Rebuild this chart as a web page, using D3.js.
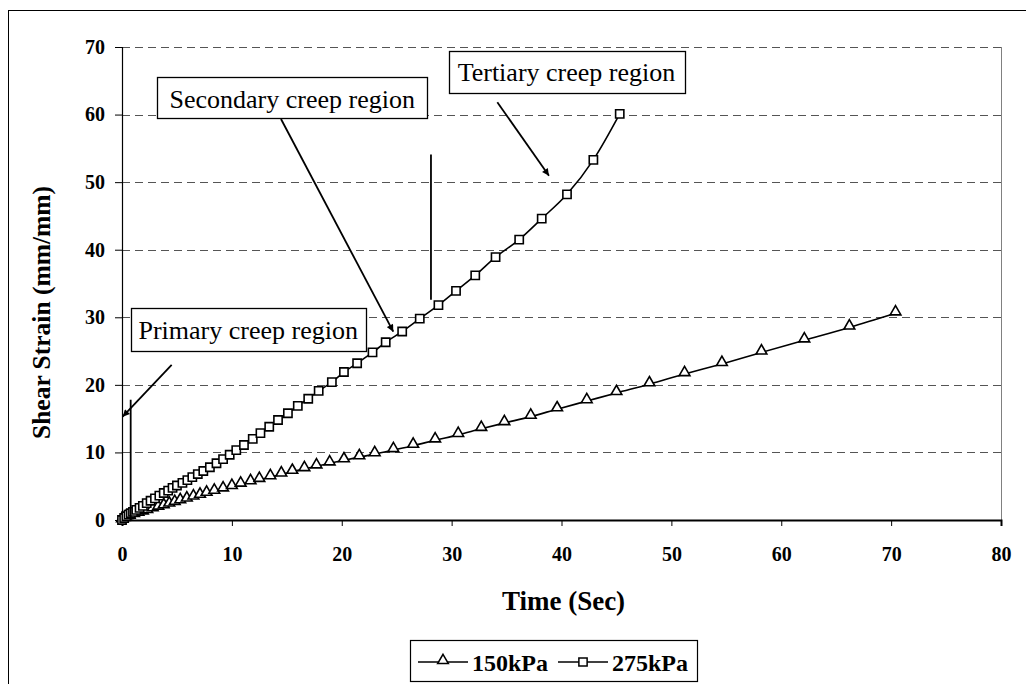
<!DOCTYPE html>
<html>
<head>
<meta charset="utf-8">
<script src="https://cdnjs.cloudflare.com/ajax/libs/d3/7.8.5/d3.min.js"></script>
<style>
  body { margin: 0; background: #fff; }
  svg { display: block; }
</style>
</head>
<body>
<script>
// values (time in sec, shear strain in mm/mm)
var time150 = [0, 0.3, 0.7, 1.1, 1.5, 1.9, 2.3, 2.8, 3.3, 3.8, 4.3, 4.8, 5.3, 5.9, 6.5, 7.1, 7.7, 8.4, 9.2, 10.0,
  10.8, 11.7, 12.5, 13.5, 14.5, 15.5, 16.6, 17.7, 18.9, 20.2, 21.6, 23.0, 24.7, 26.5, 28.5, 30.6, 32.7, 34.8,
  37.2, 39.6, 42.3, 45.0, 48.0, 51.2, 54.6, 58.2, 62.1, 66.2, 70.4];
var strain150 = [0, 0.25, 0.5, 0.75, 0.95, 1.15, 1.35, 1.6, 1.85, 2.05, 2.3, 2.55, 2.8, 3.05, 3.35, 3.6, 3.9, 4.2, 4.55, 4.9,
  5.25, 5.6, 5.95, 6.35, 6.75, 7.15, 7.55, 7.95, 8.4, 8.85, 9.3, 9.75, 10.35, 11.0, 11.8, 12.6, 13.5, 14.35,
  15.3, 16.4, 17.6, 18.8, 20.1, 21.6, 23.1, 24.8, 26.6, 28.5, 30.6];

var time275 = [0, 0.2, 0.4, 0.6, 0.8, 1.0, 1.3, 1.6, 1.9, 2.25, 2.6, 3.0, 3.4, 3.8, 4.2, 4.6, 5.0, 5.5, 5.95, 6.4,
  6.9, 7.4, 8.0, 8.6, 9.2, 9.8, 10.4, 11.1, 11.9, 12.6, 13.4, 14.2, 15.1, 16.0, 16.95, 17.9, 19.1, 20.2, 21.4,
  22.8, 24.0, 25.5, 27.1, 28.8, 30.4, 32.15, 34.0, 36.15, 38.2, 40.5, 42.9, 45.3];
var strain275 = [0, 0.3, 0.55, 0.8, 1.0, 1.2, 1.5, 1.8, 2.1, 2.5, 2.85, 3.2, 3.6, 4.0, 4.35, 4.75, 5.1, 5.5, 5.9, 6.35,
  6.8, 7.25, 7.8, 8.4, 9.0, 9.65, 10.35, 11.1, 12.0, 12.85, 13.8, 14.8, 15.8, 16.9, 17.95, 19.1, 20.4, 21.9, 23.2,
  24.8, 26.3, 27.9, 29.8, 31.8, 33.9, 36.2, 38.9, 41.5, 44.6, 48.2, 53.3, 60.1];

var xTicks = [0, 10, 20, 30, 40, 50, 60, 70, 80];
var yTicks = [0, 10, 20, 30, 40, 50, 60, 70];
var seriesNames = ["150kPa", "275kPa"];

// callouts, in data units: box [x0, yTop, x1, yBottom], arrow [x1, y1, x2, y2]
var calloutLabels = ["Primary creep region", "Secondary creep region", "Tertiary creep region"];
var calloutBoxes = [[0.79, 31.33, 22.18, 24.91], [3.19, 65.52, 27.80, 59.42], [29.72, 69.46, 51.18, 63.24]];
var calloutArrows = [[4.52, 22.94, 0.06, 15.29], [14.47, 59.35, 24.69, 27.87], [34.16, 61.82, 38.86, 50.96]];
// region boundary markers [x, yFrom, yTo]
var boundaries = [[0.79, 17.8, 0], [28.12, 54.1, 32.6]];

(function(){
  var W = 1026, H = 684;
  var svg = d3.select("body").append("svg")
      .attr("width", W)
      .attr("height", H);

  var serif = "'Times New Roman', 'Liberation Serif', serif";

  // outer chart border (right and bottom edges fall outside the picture)
  svg.append("rect")
    .attr("x", 8.5).attr("y", 10.5)
    .attr("width", 1040).attr("height", 700)
    .style("fill", "none").style("stroke", "#000").style("stroke-width", 1);

  var x = d3.scaleLinear().domain([0, 80]).range([122, 1001]);
  var y = d3.scaleLinear().domain([0, 70]).range([520, 47]);

  // grid
  svg.append("g").selectAll("line").data(yTicks.filter(function(d){return d > 0;}))
    .enter().append("line")
    .attr("x1", x(0)).attr("x2", x(80))
    .attr("y1", function(d){return Math.round(y(d)) + 0.5;})
    .attr("y2", function(d){return Math.round(y(d)) + 0.5;})
    .style("stroke", "#555").style("stroke-width", 1)
    .style("stroke-dasharray", "8,5");

  // right edge of plot area
  svg.append("line")
    .attr("x1", x(80) + 0.5).attr("x2", x(80) + 0.5)
    .attr("y1", y(0)).attr("y2", y(70))
    .style("stroke", "#808080").style("stroke-width", 1);

  var xAxis = svg.append("g")
      .attr("transform", "translate(0," + y(0) + ")")
      .call(d3.axisBottom(x).tickValues(xTicks).tickSize(6).tickPadding(21));
  xAxis.select(".domain").style("stroke-width", 2);
  xAxis.selectAll("text")
    .style("font-family", serif).style("font-weight", "bold")
    .style("font-size", "20px").attr("fill", "#000");

  var yAxis = svg.append("g")
      .attr("transform", "translate(" + x(0) + ",0)")
      .call(d3.axisLeft(y).tickValues(yTicks).tickSize(7).tickPadding(10));
  yAxis.select(".domain").style("stroke-width", 1.2);
  yAxis.selectAll("text")
    .style("font-family", serif).style("font-weight", "bold")
    .style("font-size", "20px").attr("fill", "#000");

  // axis titles
  svg.append("text")
    .attr("x", (x(0) + x(80)) / 2 + 2).attr("y", 610)
    .attr("text-anchor", "middle")
    .style("font-family", serif).style("font-weight", "bold").style("font-size", "27px")
    .text("Time (Sec)");

  svg.append("text")
    .attr("transform", "translate(50," + (y(35) + 29) + ") rotate(-90)")
    .attr("text-anchor", "middle")
    .style("font-family", serif).style("font-weight", "bold").style("font-size", "25.5px")
    .text("Shear Strain (mm/mm)");

  // series
  var data150 = time150.map(function(t, i){ return {x: t, y: strain150[i]}; });
  var data275 = time275.map(function(t, i){ return {x: t, y: strain275[i]}; });

  var line = d3.line()
      .x(function(d){return x(d.x);})
      .y(function(d){return y(d.y);})
      .curve(d3.curveMonotoneX);

  var triangle = d3.symbol().type(d3.symbolTriangle).size(50);
  var square = d3.symbol().type(d3.symbolSquare).size(68);

  [[data150, triangle, 1.5], [data275, square, 0]].forEach(function(s){
    svg.append("path").datum(s[0])
      .attr("d", line)
      .style("fill", "none").style("stroke", "#000").style("stroke-width", 1.6);
    svg.append("g").selectAll("path").data(s[0])
      .enter().append("path")
      .attr("d", s[1])
      .attr("transform", function(d){ return "translate(" + x(d.x) + "," + (y(d.y) - s[2]) + ")"; })
      .style("fill", "#fff").style("stroke", "#000").style("stroke-width", 1.6);
  });

  // arrowhead
  svg.append("defs").append("marker")
    .attr("id", "head")
    .attr("viewBox", "0 0 10 10")
    .attr("refX", 10).attr("refY", 5)
    .attr("markerWidth", 10).attr("markerHeight", 7)
    .attr("markerUnits", "userSpaceOnUse")
    .attr("orient", "auto")
    .append("path").attr("d", "M0,0L10,5L0,10z").style("fill", "#000");

  // boundary markers
  svg.append("g").selectAll("line").data(boundaries)
    .enter().append("line")
    .attr("x1", function(d){return x(d[0]);}).attr("x2", function(d){return x(d[0]);})
    .attr("y1", function(d){return y(d[1]);}).attr("y2", function(d){return y(d[2]);})
    .style("stroke", "#000").style("stroke-width", 1.8);

  // arrows
  svg.append("g").selectAll("line").data(calloutArrows)
    .enter().append("line")
    .attr("x1", function(d){return x(d[0]);}).attr("y1", function(d){return y(d[1]);})
    .attr("x2", function(d){return x(d[2]);}).attr("y2", function(d){return y(d[3]);})
    .attr("marker-end", "url(#head)")
    .style("stroke", "#000").style("stroke-width", 1.8);

  // callout boxes
  var callouts = svg.append("g").selectAll("g").data(calloutBoxes)
    .enter().append("g");
  callouts.append("rect")
    .attr("x", function(d){return Math.round(x(d[0])) + 0.5;})
    .attr("y", function(d){return Math.round(y(d[1])) + 0.5;})
    .attr("width", function(d){return Math.round(x(d[2]) - x(d[0]));})
    .attr("height", function(d){return Math.round(y(d[3]) - y(d[1]));})
    .style("fill", "#fff").style("stroke", "#000").style("stroke-width", 1.3);
  callouts.append("text")
    .attr("x", function(d){return (x(d[0]) + x(d[2])) / 2;})
    .attr("y", function(d){return y(d[1]) + 30.5;})
    .attr("text-anchor", "middle")
    .style("font-family", serif).style("font-size", "26px")
    .text(function(d, i){return calloutLabels[i];});

  // legend
  var legend = svg.append("g");
  legend.append("rect")
    .attr("x", 410.5).attr("y", 640.5).attr("width", 287).attr("height", 41)
    .style("fill", "#fff").style("stroke", "#000").style("stroke-width", 1.2);
  var items = [[418, triangle, 1.5], [558, square, 0]];
  items.forEach(function(it, i){
    var g = legend.append("g").attr("transform", "translate(" + it[0] + ",662)");
    g.append("line").attr("x1", 0).attr("x2", 50)
      .style("stroke", "#000").style("stroke-width", 1.6);
    g.append("path").attr("d", it[1]).attr("transform", "translate(25," + (-it[2]) + ")")
      .style("fill", "#fff").style("stroke", "#000").style("stroke-width", 1.5);
    g.append("text").attr("x", 54).attr("y", 9)
      .style("font-family", serif).style("font-weight", "bold").style("font-size", "24px")
      .text(seriesNames[i]);
  });
})();
</script>
</body>
</html>
